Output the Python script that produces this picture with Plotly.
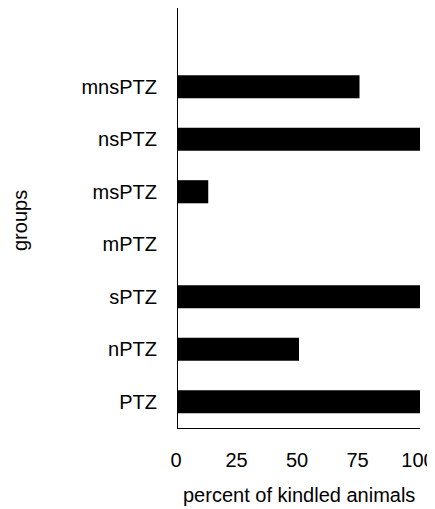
import plotly.graph_objects as go

groups = ["PTZ", "nPTZ", "sPTZ", "mPTZ", "msPTZ", "nsPTZ", "mnsPTZ"]
percent_kindled = [100, 50, 100, 0, 12.5, 100, 75]
x_ticks = [0, 25, 50, 75, 100]

fig = go.Figure(go.Bar(
    x=percent_kindled, y=groups, orientation="h",
    marker=dict(color="black", line=dict(width=0)),
    width=0.44,
))

font = dict(family="Liberation Sans, Arial, sans-serif", size=20, color="black")

# page body has an 8px margin, so the figure sits at (8, 8) in the window
W, H = 435, 501
L, R, T, B = 170, 23, 0, 81

fig.update_layout(
    width=W, height=H,
    margin=dict(l=L, r=R, t=T, b=B, autoexpand=False),
    paper_bgcolor="white", plot_bgcolor="white",
    font=font, showlegend=False,
    xaxis=dict(
        range=[0, 100], tickvals=x_ticks, ticktext=[str(v) for v in x_ticks],
        showgrid=False, zeroline=False, showline=True, linecolor="black", linewidth=1,
        ticks="", ticklabelstandoff=14, ticklabelshift=-2,
        automargin=False, ticklabeloverflow="allow",
        fixedrange=True,
    ),
    yaxis=dict(
        categoryorder="array", categoryarray=groups, range=[-0.5, 7.5],
        showgrid=False, zeroline=False, showline=True, linecolor="black", linewidth=1,
        ticks="", ticklabelstandoff=16, automargin=False,
        fixedrange=True,
    ),
    annotations=[
        dict(text="percent of kindled animals", x=0.5, y=0, xref="paper", yref="paper",
             showarrow=False, font=font, xanchor="center", yanchor="middle"),
        dict(text="groups", x=0, y=0.5, xref="paper", yref="paper", borderpad=0,
             showarrow=False, font=font, textangle=-90, xanchor="center", yanchor="middle"),
    ],
)
plot_w = W - L - R
plot_h = H - T - B
fig.layout.annotations[0].y = (H - B - (495 - 8)) / plot_h
fig.layout.annotations[1].x = ((20 - 8) - L) / plot_w
fig.layout.annotations[1].y = (H - B - (221 - 8)) / plot_h

fig.write_html("out.html")
